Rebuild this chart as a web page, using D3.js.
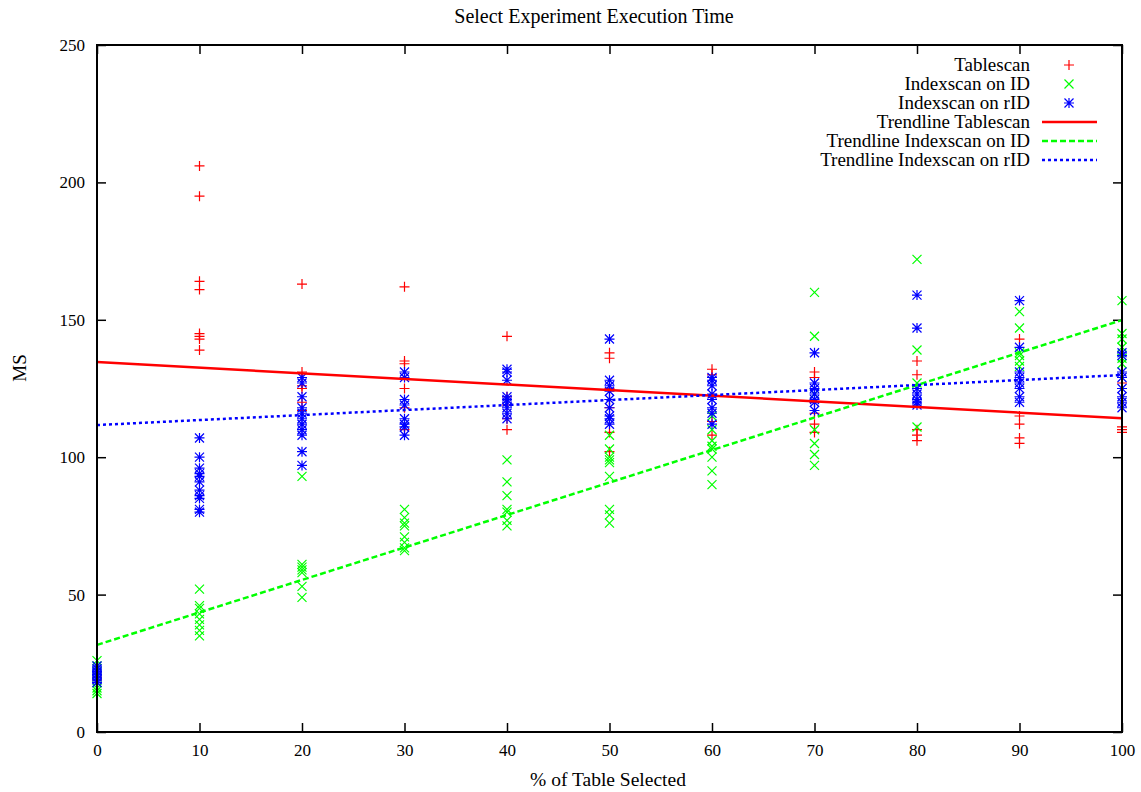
<!DOCTYPE html>
<html>
<head>
<meta charset="utf-8">
<script src="https://cdn.jsdelivr.net/npm/d3@7"></script>
<style>
  body { margin: 0; background: #fff; }
  svg { display: block; font-family: "Liberation Serif", "Times New Roman", serif; }
</style>
</head>
<body>
<svg id="chart" width="1141" height="792"></svg>
<script>
// percent of table selected
let percents = [0, 10, 20, 30, 40, 50, 60, 70, 80, 90, 100]
// measured times (ms), one list per percent
let tablescan = [
    [22, 21, 20, 19],
    [206, 195, 164, 161, 145, 144, 143, 139],
    [163, 131, 129, 126, 125, 120, 117],
    [162, 135, 134, 125, 118, 110],
    [144, 122, 119, 114, 110],
    [138, 136, 125, 121, 118, 109, 102],
    [132, 130, 113, 108],
    [131, 129, 120, 116, 112, 109],
    [135, 130, 110, 108, 106],
    [143, 115, 112, 107, 105],
    [127, 111, 110, 109]
]
let indexscanID = [
    [26, 24, 22, 20, 18, 16, 15, 14],
    [52, 46, 45, 43, 41, 39, 37, 35],
    [93, 61, 60, 59, 58, 53, 49],
    [81, 78, 76, 75, 71, 69, 67, 66],
    [99, 91, 86, 81, 80, 77, 75],
    [108, 103, 100, 99, 98, 93, 81, 79, 76],
    [115, 110, 106, 104, 103, 100, 95, 90],
    [160, 144, 123, 110, 105, 101, 97],
    [172, 139, 127, 111],
    [153, 147, 138, 137, 135, 133],
    [157, 145, 143, 140, 136, 134]
]
let indexscanRID = [
    [24, 23, 22, 21, 20, 19, 18],
    [107, 100, 96, 94, 93, 91, 88, 86, 85, 81, 80],
    [129, 127, 122, 118, 116, 114, 112, 110, 108, 102, 97],
    [131, 129, 121, 119, 114, 112, 111, 108],
    [132, 131, 128, 122, 121, 120, 118, 116, 114],
    [143, 128, 126, 124, 121, 118, 115, 114, 112],
    [129, 128, 126, 123, 121, 118, 116, 112],
    [138, 127, 125, 123, 121, 120, 117],
    [159, 147, 125, 123, 121, 120, 119],
    [157, 140, 131, 129, 127, 125, 122, 120],
    [138, 137, 131, 129, 125, 122, 120, 118]
]
// trendline values at x = 0 and x = 100
let trendX = [0, 100]
let trendTablescan = [134.6, 114.2]
let trendIndexscanID = [31.7, 149.9]
let trendIndexscanRID = [111.7, 129.9]

let yTicks = [0, 50, 100, 150, 200, 250]
let xTicks = percents

let svg = d3.select("#chart")
let plotLeft = 97, plotRight = 1122, plotTop = 45, plotBottom = 732

let xScale = d3.scaleLinear().domain([0, 100]).range([plotLeft, plotRight])
let yScale = d3.scaleLinear().domain([0, 250]).range([plotBottom, plotTop])

let plusPath = "M-5,0H5M0,-5V5"
let crossPath = "M-4.5,-4.5L4.5,4.5M-4.5,4.5L4.5,-4.5"
let starPath = plusPath + crossPath

//title and labels
svg.append('text')
   .text('Select Experiment Execution Time')
   .attr('x', 594)
   .attr('y', 23)
   .attr('text-anchor', 'middle')
   .style('font-size', '20px')

svg.append('text')
   .text('% of Table Selected')
   .attr('x', 608)
   .attr('y', 786)
   .attr('text-anchor', 'middle')
   .style('font-size', '19.5px')

svg.append('text')
   .text('MS')
   .attr('transform', 'translate(26, 368) rotate(-90)')
   .attr('text-anchor', 'middle')
   .style('font-size', '19px')

//axes with mirrored inward ticks
let tickLen = 9
let bottomAxis = d3.axisBottom(xScale).tickValues(xTicks).tickSizeInner(-tickLen).tickSizeOuter(0).tickPadding(12)
let topAxis = d3.axisTop(xScale).tickValues(xTicks).tickSizeInner(-tickLen).tickSizeOuter(0).tickFormat('')
let leftAxis = d3.axisLeft(yScale).tickValues(yTicks).tickSizeInner(-tickLen).tickSizeOuter(0).tickPadding(12)
let rightAxis = d3.axisRight(yScale).tickValues(yTicks).tickSizeInner(-tickLen).tickSizeOuter(0).tickFormat('')

let axes = [
    [bottomAxis, `translate(0, ${plotBottom})`],
    [topAxis, `translate(0, ${plotTop})`],
    [leftAxis, `translate(${plotLeft}, 0)`],
    [rightAxis, `translate(${plotRight}, 0)`]
]
axes.forEach(([ax, tr]) => {
    let g = svg.append('g').attr('transform', tr).call(ax)
    g.select('.domain').remove()
    g.selectAll('line').attr('stroke', '#000').attr('stroke-width', 1.5)
    g.selectAll('text')
     .style('font-family', '"Liberation Serif", serif')
     .style('font-size', '17px')
     .attr('fill', '#000')
})

//points
let flatten = (groups) => groups.flatMap((vals, i) => vals.map((v) => ({x: percents[i], y: v})))

let series = [
    {data: tablescan, path: plusPath, color: '#ff0000'},
    {data: indexscanID, path: crossPath, color: '#00ff00'},
    {data: indexscanRID, path: starPath, color: '#0000ff'}
]

series.forEach((s) => {
    svg.append('g')
       .selectAll('path')
       .data(flatten(s.data))
       .enter()
       .append('path')
       .attr('d', s.path)
       .attr('transform', (d) => `translate(${xScale(d.x)}, ${yScale(d.y)})`)
       .attr('fill', 'none')
       .attr('stroke', s.color)
       .attr('stroke-width', 1.2)
})

//trendlines
let trends = [
    {vals: trendTablescan, color: '#ff0000', dash: null},
    {vals: trendIndexscanID, color: '#00ff00', dash: '6,3'},
    {vals: trendIndexscanRID, color: '#0000ff', dash: '3,3'}
]
let line = d3.line().x((d) => xScale(d[0])).y((d) => yScale(d[1]))

trends.forEach((t) => {
    svg.append('path')
       .attr('d', line(trendX.map((x, i) => [x, t.vals[i]])))
       .attr('fill', 'none')
       .attr('stroke', t.color)
       .attr('stroke-width', 2.5)
       .attr('stroke-dasharray', t.dash)
})

//frame
svg.append('rect')
   .attr('x', plotLeft)
   .attr('y', plotTop)
   .attr('width', plotRight - plotLeft)
   .attr('height', plotBottom - plotTop)
   .attr('fill', 'none')
   .attr('stroke', '#000')
   .attr('stroke-width', 2)

//legend
let legendItems = [
    {name: 'Tablescan', type: 'point', path: plusPath, color: '#ff0000'},
    {name: 'Indexscan on ID', type: 'point', path: crossPath, color: '#00ff00'},
    {name: 'Indexscan on rID', type: 'point', path: starPath, color: '#0000ff'},
    {name: 'Trendline Tablescan', type: 'line', color: '#ff0000', dash: null},
    {name: 'Trendline Indexscan on ID', type: 'line', color: '#00ff00', dash: '6,3'},
    {name: 'Trendline Indexscan on rID', type: 'line', color: '#0000ff', dash: '3,3'}
]

let lg = svg.selectAll('.legend-item')
            .data(legendItems)
            .enter()
            .append('g')
            .attr('class', 'legend-item')
            .attr('transform', (d, i) => `translate(0, ${65 + i * 19})`)

lg.append('text')
  .text((d) => d.name)
  .attr('x', 1030)
  .attr('y', 6)
  .attr('text-anchor', 'end')
  .style('font-size', '19px')

lg.filter((d) => d.type === 'point')
  .append('path')
  .attr('d', (d) => d.path)
  .attr('transform', 'translate(1069, 0)')
  .attr('fill', 'none')
  .attr('stroke', (d) => d.color)
  .attr('stroke-width', 1.2)

lg.filter((d) => d.type === 'line')
  .append('line')
  .attr('x1', 1042)
  .attr('x2', 1097)
  .attr('y1', 0)
  .attr('y2', 0)
  .attr('stroke', (d) => d.color)
  .attr('stroke-width', 2.5)
  .attr('stroke-dasharray', (d) => d.dash)
</script>
</body>
</html>
